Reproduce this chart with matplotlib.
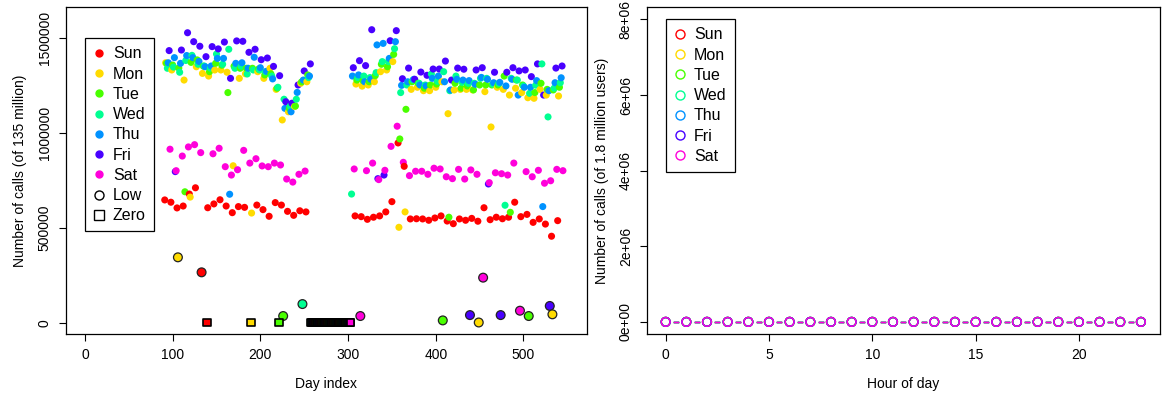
import numpy as np
import matplotlib.pyplot as plt
from matplotlib.lines import Line2D

plt.rcParams['font.family'] = ['Liberation Sans', 'DejaVu Sans']

day_names = ['Sun', 'Mon', 'Tue', 'Wed', 'Thu', 'Fri', 'Sat']
day_colors = ['#FF0000', '#FFDB00', '#49FF00', '#00FF92', '#0092FF', '#4900FF', '#FF00DB']

# first day index shown (a Sunday)
first_day = 91
# daily calls in thousands, one row per week: Sun Mon Tue Wed Thu Fri Sat
weekly_calls = [
    [646, 1368, 1365, 1339, 1368, 1432, 913],
    [634, 1330, 1356, 1345, 1395, 795, 800],
    [604, 344, 1340, 1318, 1365, 1435, 877],
    [614, 1277, 689, 1380, 1406, 1526, 925],
    [677, 661, 1370, 1407, 1395, 1479, 937],
    [710, 1347, 1383, 1360, 1375, 1455, 895],
    [265, 1312, 1350, 1351, 1347, 1400, 0],
    [605, 1298, 1321, 1340, 1351, 1453, 889],
    [625, 1330, 1365, 1414, 1391, 1441, 918],
    [647, 1330, 1355, 1360, 1391, 1477, 821],
    [614, 1318, 1211, 1439, 676, 1286, 777],
    [579, 826, 1350, 1339, 1365, 1483, 805],
    [611, 1286, 1339, 1350, 1368, 1481, 907],
    [607, 1310, 1339, 1309, 1339, 1423, 840],
    [0, 577, 1339, 1330, 1397, 1439, 863],
    [619, 1321, 1335, 1330, 1342, 1384, 825],
    [595, 1286, 1304, 1320, 1323, 1393, 821],
    [560, 1339, 1310, 1298, 1283, 1349, 840],
    [632, 1228, 1234, 1239, 0, 1300, 830],
    [619, 1067, 35, 1176, 1128, 1163, 756],
    [586, 1110, 1128, 1140, 1110, 1155, 740],
    [565, 1138, 1140, 1176, 1212, 1251, 781],
    [589, 1260, 1267, 98, 1277, 1325, 798],
    [583, 1268, 1304, 1290, 1298, 1362, 0],
    [0, 0, 0, 0, 0, 0, 0],
    [0, 0, 0, 0, 0, 0, 0],
    [0, 0, 0, 0, 0, 0, 0],
    [0, 0, 0, 0, 0, 0, 0],
    [0, 0, 0, 0, 0, 0, 0],
    [0, 0, 0, 0, 0, 0, 0],
    [0, 0, 0, 677, 1298, 1342, 809],
    [562, 1256, 1277, 1290, 1304, 1379, 35],
    [558, 1245, 1274, 1298, 1268, 1353, 800],
    [544, 1251, 1268, 1290, 1281, 1542, 840],
    [555, 1268, 1300, 1316, 1462, 758, 753],
    [562, 1321, 1360, 1374, 1470, 777, 802],
    [583, 1330, 1347, 1374, 1391, 1484, 928],
    [637, 1374, 1412, 1442, 1479, 1537, 1034],
    [946, 502, 967, 1211, 1249, 1284, 844],
    [823, 583, 1123, 1251, 1268, 1340, 774],
    [546, 1228, 1268, 1277, 1281, 1281, 797],
    [547, 1239, 1260, 1260, 1251, 1319, 797],
    [546, 1221, 1234, 1251, 1246, 1302, 781],
    [539, 1221, 1251, 1309, 1286, 1335, 813],
    [551, 1239, 1256, 1270, 1298, 1335, 809],
    [562, 1268, 12, 1321, 1268, 1377, 768],
    [535, 1100, 555, 1221, 1225, 1277, 758],
    [521, 1225, 1260, 1298, 1281, 1340, 807],
    [546, 1228, 1234, 1265, 1277, 1334, 756],
    [539, 1228, 1246, 1260, 1274, 40, 804],
    [549, 1225, 1225, 1260, 1255, 1330, 781],
    [534, 1, 1251, 1286, 1291, 1342, 237],
    [605, 1216, 1251, 1286, 1281, 730, 737],
    [542, 1030, 1251, 1255, 1263, 1318, 789],
    [555, 1239, 1251, 1260, 1265, 40, 784],
    [547, 1228, 1298, 618, 1246, 1318, 777],
    [555, 1198, 581, 1286, 1281, 1342, 840],
    [634, 1234, 1277, 1277, 1198, 1325, 63],
    [558, 1211, 1251, 1246, 1239, 1330, 795],
    [570, 1184, 35, 1207, 1239, 1295, 768],
    [528, 1181, 1211, 1250, 1274, 1362, 802],
    [546, 1228, 1260, 1362, 611, 1198, 734],
    [519, 1198, 1228, 1083, 1221, 88, 747],
    [455, 44, 1225, 1234, 1263, 1340, 807],
    [537, 1193, 1239, 1263, 1289, 1351, 800],
]
low_limit = 400  # thousands

hours = list(range(24))
hour_calls = [0, 0, 0, 0, 0, 0, 0, 0, 0, 0, 0, 0,
              0, 0, 0, 0, 0, 0, 0, 0, 0, 0, 0, 0]

calls = np.array(weekly_calls, dtype=float).ravel() * 1000
day = first_day + np.arange(len(calls))
dow = day % 7
cols = np.array(day_colors)

normal = calls >= low_limit * 1000
low = (calls > 0) & ~normal
zero = calls == 0
zero_cols = [day_colors[i % 7] for i in range(zero.sum())]

fig = plt.figure(figsize=(11.66, 3.96), dpi=100)
ax1 = fig.add_axes([0.0563, 0.1566, 0.4468, 0.825])
ax2 = fig.add_axes([0.5546, 0.1566, 0.4402, 0.825])

ax1.scatter(day[normal], calls[normal], s=26, c=cols[dow[normal]], linewidths=0, zorder=3)
ax1.scatter(day[low], calls[low], s=40, c=cols[dow[low]], edgecolors='#222222', linewidths=0.9, zorder=4)
ax1.scatter(day[zero], calls[zero], s=30, marker='s', c=zero_cols, edgecolors='black', linewidths=1.2, zorder=5)

ax1.set_xlim(-22, 572)
ax1.set_ylim(-59500, 1660000)
ax1.set_xticks([0, 100, 200, 300, 400, 500])
yt = [0, 500000, 1000000, 1500000]
ax1.set_yticks(yt)
ax1.set_yticklabels([str(v) for v in yt], rotation=90, va='center')
ax1.set_xlabel('Day index', fontsize=10, labelpad=11)
ax1.set_ylabel('Number of calls (of 135 million)', fontsize=10, labelpad=8)

leg_style = dict(loc='upper left', borderaxespad=0, fontsize=11.5, fancybox=False,
                 edgecolor='black', framealpha=1, handlelength=0.8, handletextpad=0.45,
                 labelspacing=0.33, borderpad=0.5)

handles = [Line2D([], [], ls='none', marker='o', ms=5, mfc=c, mec=c) for c in day_colors]
handles += [Line2D([], [], ls='none', marker='o', ms=6.5, mfc='none', mec='black'),
            Line2D([], [], ls='none', marker='s', ms=6.5, mfc='none', mec='black')]
leg1 = ax1.legend(handles, day_names + ['Low', 'Zero'], bbox_to_anchor=(0.037, 0.905), **leg_style)
leg1.get_frame().set_linewidth(0.9)

# hourly panel, R type="b"
gap = 0.4
for d in range(7):
    c = day_colors[d]
    for h in hours[:-1]:
        ax2.plot([h + gap, h + 1 - gap], [hour_calls[h], hour_calls[h + 1]], color=c, lw=1, zorder=2)
    ax2.scatter(hours, hour_calls, s=40, facecolors='none', edgecolors=c, linewidths=1, zorder=3)

ax2.set_xlim(-0.92, 23.92)
ax2.set_ylim(-0.32e6, 8.32e6)
ax2.set_xticks([0, 5, 10, 15, 20])
yt2 = [0, 2e6, 4e6, 6e6, 8e6]
ax2.set_yticks(yt2)
ax2.set_yticklabels(['0e+00', '2e+06', '4e+06', '6e+06', '8e+06'], rotation=90, va='center')
ax2.set_xlabel('Hour of day', fontsize=10, labelpad=11)
ax2.set_ylabel('Number of calls (of 1.8 million users)', fontsize=10, labelpad=7)

handles2 = [Line2D([], [], ls='none', marker='o', ms=6.5, mfc='none', mec=c) for c in day_colors]
leg2 = ax2.legend(handles2, day_names, bbox_to_anchor=(0.0376, 0.963), **leg_style)
leg2.get_frame().set_linewidth(0.9)

for ax in (ax1, ax2):
    ax.tick_params(direction='out', length=5, width=0.8, labelsize=10, pad=5)
    for s in ax.spines.values():
        s.set_linewidth(0.9)

fig.savefig('out.png', dpi=100)
